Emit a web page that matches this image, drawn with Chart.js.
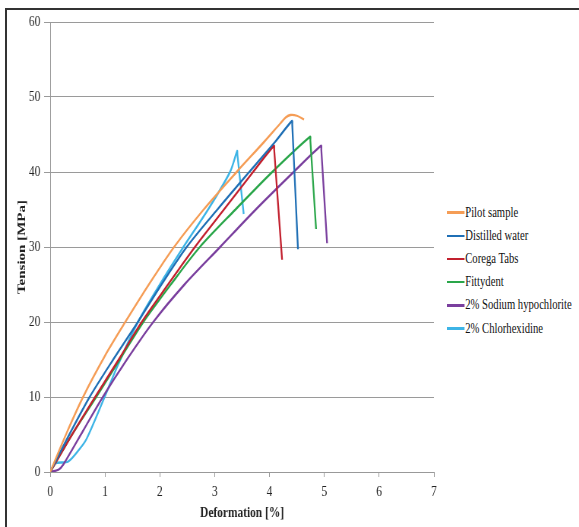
<!DOCTYPE html>
<html>
<head>
<meta charset="utf-8">
<script src="https://cdn.jsdelivr.net/npm/chart.js@4"></script>
<style>
  html, body { margin: 0; padding: 0; background: #fff; }
  body { width: 579px; height: 527px; position: relative; overflow: hidden; }
  #frame { position: absolute; left: 5px; top: 8px; width: 600px; height: 560px; border: 2px solid #333; box-sizing: border-box; }
  /* the original figure is squeezed horizontally, so the chart is drawn wider and scaled down */
  #wrap { position: absolute; left: 0; top: 0; width: 585px; height: 527px; transform: scaleX(0.76); transform-origin: 0 0; }
  #legend { position: absolute; left: 447px; top: 201px; transform: scaleX(0.76); transform-origin: 0 0;
            font-family: "Liberation Serif", serif; font-size: 14px; color: #111; }
  .item { height: 23.2px; display: flex; align-items: center; white-space: nowrap; }
  .swatch { width: 23px; height: 2.5px; margin-right: 1px; }
</style>
</head>
<body>
<div id="frame"></div>
<div id="wrap"><canvas id="chart1"></canvas></div>
<div id="legend"></div>
<script>
// Deformation [%] / Tension [MPa]
const seriesNames = ["Pilot sample", "Distilled water", "Corega Tabs", "Fittydent", "2% Sodium hypochlorite", "2% Chlorhexidine"];
const seriesColors = ["#f59d56", "#1f6fb5", "#c2202e", "#2aa64a", "#7a3f9e", "#3db4e6"];

const pilotX = [0, 0.3, 0.6, 1.0, 1.37, 1.8, 2.26, 2.8, 3.4, 3.9, 4.2, 4.3, 4.38, 4.5, 4.63];
const pilotY = [0, 5.2, 10, 15.5, 20, 25, 30, 35, 40, 44, 46.5, 47.3, 47.6, 47.5, 47.0];

const waterX = [0, 0.35, 0.72, 1.15, 1.6, 2.03, 2.49, 3.05, 3.63, 4.1, 4.41, 4.415, 4.52];
const waterY = [0, 5, 10, 15, 20, 25, 30, 35, 40, 44, 46.8, 46.3, 29.7];

const coregaX = [0, 0.4, 0.82, 1.25, 1.67, 2.15, 2.64, 3.17, 3.7, 4.08, 4.085, 4.23];
const coregaY = [0, 5, 10, 15, 20, 25, 30, 35, 40, 43.5, 43.0, 28.3];

const fittyX = [0, 0.4, 0.84, 1.27, 1.7, 2.2, 2.73, 3.38, 4.05, 4.74, 4.745, 4.85];
const fittyY = [0, 5, 10, 15, 20, 25, 30, 35, 40, 44.7, 44.2, 32.4];

const sodiumX = [0, 0.15, 0.24, 0.6, 0.96, 1.4, 1.88, 2.45, 3.1, 3.75, 4.44, 4.94, 4.945, 5.05];
const sodiumY = [0, 0.3, 1, 5.5, 10, 15, 20, 25, 30, 35, 40, 43.5, 43.0, 30.5];

const chlorX = [0, 0.09, 0.33, 0.55, 0.67, 0.97, 1.25, 1.6, 2.0, 2.43, 2.88, 3.28, 3.41, 3.415, 3.53];
const chlorY = [0, 1.15, 1.4, 3.2, 4.5, 9.6, 14.5, 20, 25, 30, 35, 40, 42.8, 42.3, 34.4];

const xTicks = [0, 1, 2, 3, 4, 5, 6, 7];
const yTicks = [0, 10, 20, 30, 40, 50, 60];

const allX = [pilotX, waterX, coregaX, fittyX, sodiumX, chlorX];
const allY = [pilotY, waterY, coregaY, fittyY, sodiumY, chlorY];

const datasets = seriesNames.map((name, i) => ({
    label: name,
    data: allX[i].map((x, j) => ({ x: x, y: allY[i][j] })),
    borderColor: seriesColors[i],
    backgroundColor: seriesColors[i],
    borderWidth: 2.3,
    pointRadius: 0,
    fill: false,
    tension: 0.3
}));

const serif = "'Liberation Serif', 'Times New Roman', serif";

const ctx = document.getElementById('chart1').getContext('2d');
const myChart = new Chart(ctx, {
    type: 'line',
    data: { datasets: datasets },
    options: {
        responsive: true,
        maintainAspectRatio: false,
        animation: false,
        layout: { padding: { top: 22, right: 14, left: 0, bottom: 0 } },
        plugins: {
            legend: { display: false },
            tooltip: { enabled: false }
        },
        scales: {
            x: {
                type: 'linear',
                min: 0,
                max: 7,
                afterBuildTicks: (s) => { s.ticks = xTicks.map(v => ({ value: v })); },
                afterFit: (s) => { s.height = 55; },
                border: { color: '#999', width: 1 },
                grid: { drawOnChartArea: false, color: '#999', tickLength: 5 },
                ticks: { color: '#222', font: { family: serif, size: 15 }, padding: 6 },
                title: {
                    display: true,
                    text: 'Deformation [%]',
                    color: '#222',
                    font: { family: serif, size: 15, weight: 'bold' },
                    padding: { top: 0, bottom: 5 }
                }
            },
            y: {
                min: 0,
                max: 60,
                afterBuildTicks: (s) => { s.ticks = yTicks.map(v => ({ value: v })); },
                afterFit: (s) => { s.width = 66; },
                border: { color: '#999', width: 1 },
                grid: { color: '#9a9a9a', tickLength: 8 },
                ticks: { color: '#222', font: { family: serif, size: 15 }, padding: 5 },
                title: {
                    display: true,
                    text: 'Tension [MPa]',
                    color: '#222',
                    font: { family: serif, size: 15, weight: 'bold' },
                    padding: { top: 20, bottom: 0 }
                }
            }
        }
    }
});

// html legend built from the datasets
const legend = document.getElementById('legend');
myChart.data.datasets.forEach(ds => {
    const row = document.createElement('div');
    row.className = 'item';
    const sw = document.createElement('span');
    sw.className = 'swatch';
    sw.style.background = ds.borderColor;
    const txt = document.createElement('span');
    txt.textContent = ds.label;
    row.appendChild(sw);
    row.appendChild(txt);
    legend.appendChild(row);
});
</script>
</body>
</html>
